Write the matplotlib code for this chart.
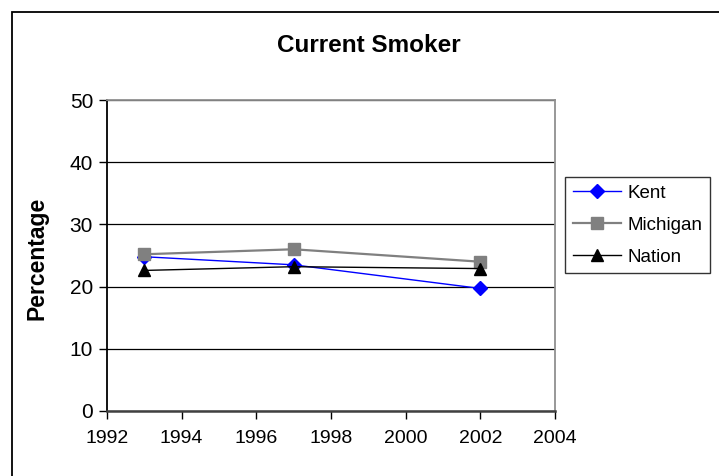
import matplotlib
matplotlib.use("Agg")
import matplotlib.pyplot as plt
from matplotlib.patches import Rectangle

plt.rcParams["font.family"] = ["Liberation Sans", "DejaVu Sans"]

years = [1993, 1997, 2002]
kent = [24.8, 23.5, 19.7]
michigan = [25.2, 26.0, 24.0]
nation = [22.6, 23.2, 22.9]

x_ticks = [1992, 1994, 1996, 1998, 2000, 2002, 2004]
y_ticks = [0, 10, 20, 30, 40, 50]

fig = plt.figure(figsize=(7.19, 4.76), dpi=100)
ax = fig.add_axes([107 / 719, 1 - 411 / 476, 448 / 719, 311 / 476])

# series drawn in order, later ones on top
ax.plot(years, kent, color="#0000ff", lw=1.0, marker="D", ms=7,
        mfc="#0000ff", mec="#0000ff", label="Kent", zorder=2.0)
ax.plot(years, michigan, color="#808080", lw=1.6, marker="s", ms=8,
        mfc="#808080", mec="#808080", label="Michigan", zorder=2.2)
ax.plot(years, nation, color="black", lw=1.0, marker="^", ms=8,
        mfc="black", mec="black", label="Nation", zorder=2.4)

ax.set_xlim(1992, 2004)
ax.set_ylim(0, 50)
ax.set_xticks(x_ticks)
ax.set_yticks(y_ticks)
ax.tick_params(axis="both", direction="out", length=6, width=1, pad=4)
ax.tick_params(axis="y", labelsize=15)
ax.tick_params(axis="x", labelsize=14, pad=8)
ax.grid(axis="y", color="black", lw=0.9)
ax.set_axisbelow(True)

ax.spines["left"].set_color("black")
ax.spines["left"].set_linewidth(1.3)
ax.spines["bottom"].set_color("#404040")
ax.spines["bottom"].set_linewidth(1.8)
ax.spines["top"].set_color("#909090")
ax.spines["top"].set_linewidth(1.3)
ax.spines["right"].set_color("#909090")
ax.spines["right"].set_linewidth(1.3)

fig.text(37 / 719, 1 - 258 / 476, "Percentage", rotation=90, ha="center",
         va="center", fontsize=16.5, fontweight="bold")
fig.text(369 / 719, 1 - 45 / 476, "Current Smoker", ha="center", va="center",
         fontsize=17.5, fontweight="bold")

leg = fig.legend(loc="upper left", bbox_to_anchor=(565 / 719, 1 - 177 / 476),
                 fontsize=13.5, frameon=True, fancybox=False, edgecolor="black",
                 handlelength=2.6, borderpad=0.4, labelspacing=0.8,
                 handletextpad=0.32, borderaxespad=0)
leg.get_frame().set_linewidth(1.0)

# outer chart border
fig.patches.append(Rectangle((12 / 719, -0.1), 1.2, 1.1 - 12 / 476,
                             transform=fig.transFigure, fill=False,
                             edgecolor="black", lw=1.3))

fig.savefig("out.png", dpi=100)
